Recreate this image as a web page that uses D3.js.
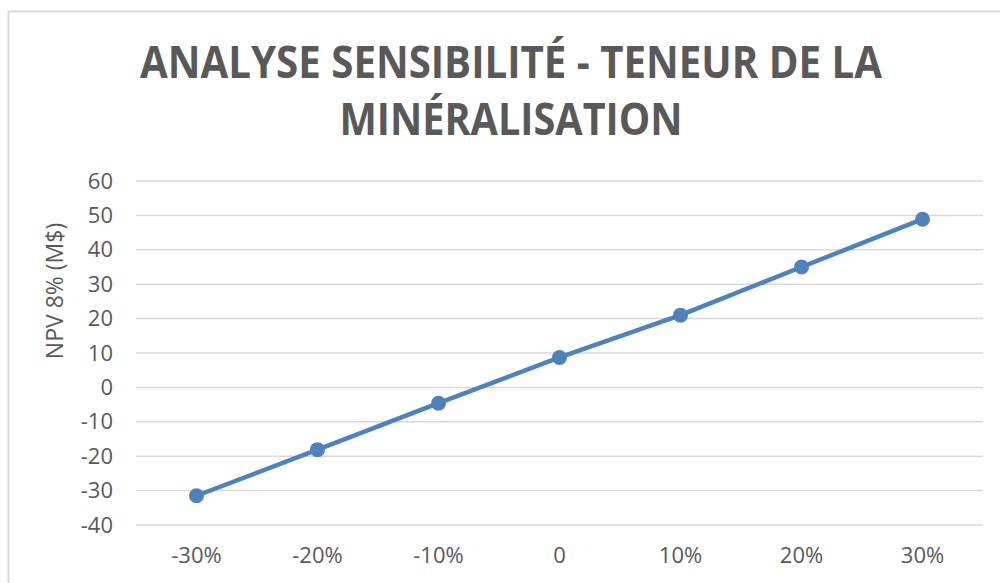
<!DOCTYPE html>
<html>
<head>
<meta charset="utf-8">
<script src="https://cdn.jsdelivr.net/npm/d3@7"></script>
<style>
  body { margin: 0; background: #fff; }
  text { font-family: "Open Sans", "Noto Sans", sans-serif; fill: #595959; }
</style>
</head>
<body>
<svg id="chart" width="1000" height="583"></svg>
<script>
let categories = ["-30%", "-20%", "-10%", "0", "10%", "20%", "30%"];
let npvValues = [-31.5, -18.1, -4.6, 8.7, 21, 35, 48.9];
let yTicks = [-40, -30, -20, -10, 0, 10, 20, 30, 40, 50, 60];
let titleLines = ["ANALYSE SENSIBILITÉ - TENEUR DE LA", "MINÉRALISATION"];
let yLabel = "NPV 8% (M$)";

let svg = d3.select("#chart");

// chart frame (right and bottom edges fall outside the picture)
svg.append("rect")
    .attr("x", 8.5).attr("y", 11.5)
    .attr("width", 1010).attr("height", 600)
    .attr("fill", "#fff")
    .attr("stroke", "#d9d9d9")
    .attr("stroke-width", 2);

let plotLeft = 136, plotRight = 983, plotTop = 181, plotBottom = 525;

let x = d3.scaleBand().domain(categories).range([plotLeft, plotRight]);
let y = d3.scaleLinear().domain([-40, 60]).range([plotBottom, plotTop]);

// gridlines
svg.append("g")
    .selectAll("line")
    .data(yTicks)
    .join("line")
    .attr("x1", plotLeft).attr("x2", plotRight)
    .attr("y1", d => y(d)).attr("y2", d => y(d))
    .attr("stroke", "#d9d9d9")
    .attr("stroke-width", 1.5);

// y axis labels (plain hyphen for negatives, like the original)
let yAxis = svg.append("g")
    .attr("transform", "translate(" + (plotLeft - 23) + ",0)")
    .call(d3.axisLeft(y).tickValues(yTicks).tickFormat(d => String(d)).tickSize(0).tickPadding(0));
yAxis.select(".domain").remove();
yAxis.attr("font-size", 22).attr("font-family", null);
yAxis.selectAll("text").attr("fill", "#595959");

// x axis labels
let xAxis = svg.append("g")
    .attr("transform", "translate(0,547)")
    .call(d3.axisBottom(x).tickSize(0).tickPadding(0));
xAxis.select(".domain").remove();
xAxis.attr("font-size", 22).attr("font-family", null);
xAxis.selectAll("text").attr("fill", "#595959");

// y label
svg.append("text")
    .attr("transform", "translate(63,291) rotate(-90)")
    .attr("text-anchor", "middle")
    .attr("font-size", 23)
    .text(yLabel);

// title
let titleWidths = [742, 343];
svg.append("g")
    .selectAll("text")
    .data(titleLines)
    .join("text")
    .attr("x", 511)
    .attr("y", (d, i) => 78 + i * 57)
    .attr("text-anchor", "middle")
    .attr("font-size", 45)
    .attr("font-weight", "bold")
    .attr("textLength", (d, i) => titleWidths[i])
    .attr("lengthAdjust", "spacingAndGlyphs")
    .text(d => d);

// series
let cx = d => x(d) + x.bandwidth() / 2;
let line = d3.line()
    .x((d, i) => cx(categories[i]))
    .y(d => y(d));

svg.append("path")
    .datum(npvValues)
    .attr("d", line)
    .attr("fill", "none")
    .attr("stroke", "#4f81bd")
    .attr("stroke-width", 4.5)
    .attr("stroke-linejoin", "round");

svg.append("g")
    .selectAll("circle")
    .data(npvValues)
    .join("circle")
    .attr("cx", (d, i) => cx(categories[i]))
    .attr("cy", d => y(d))
    .attr("r", 7.5)
    .attr("fill", "#4f81bd");
</script>
</body>
</html>
